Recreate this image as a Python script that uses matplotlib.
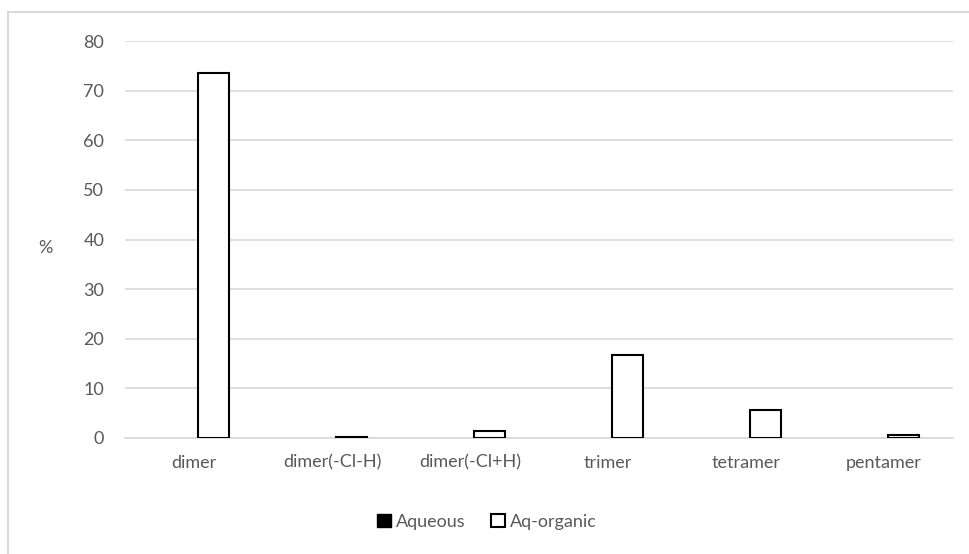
import matplotlib
matplotlib.use("Agg")
import matplotlib.pyplot as plt
import numpy as np
from matplotlib.lines import Line2D
from matplotlib.patches import Patch

categories = ["dimer", "dimer(-Cl-H)", "dimer(-Cl+H)", "trimer", "tetramer", "pentamer"]
aqueous = [0, 0, 0, 0, 0, 0]
aq_organic = [73.5, 0.3, 1.4, 16.7, 5.6, 0.7]
yticks = [0, 10, 20, 30, 40, 50, 60, 70, 80]

plt.rcParams['font.family'] = ['Lato', 'DejaVu Sans']
W, H = 970, 554
fig = plt.figure(figsize=(W/100, H/100), dpi=100)
ax = fig.add_axes([125/W, 1-438/H, (953-125)/W, (438-41)/H])

x = np.arange(len(categories))
bw = 0.225
ax.bar(x - 0.115, aqueous, width=bw, color='black', edgecolor='black', linewidth=0, zorder=3)
ax.bar(x + 0.14, aq_organic, width=bw, color='white', edgecolor='black', linewidth=1.5, zorder=3)

ax.set_xlim(-0.5, len(categories) - 0.5)
ax.set_ylim(0, 80)
ax.set_yticks(yticks)
ax.set_xticks(x)
ax.set_xticklabels(categories)
ax.grid(axis='y', color='#d9d9d9', linewidth=1.2, zorder=0)
for s in ['top', 'right', 'left']:
    ax.spines[s].set_visible(False)
ax.spines['bottom'].set_color('#d9d9d9')
ax.spines['bottom'].set_linewidth(1.2)
ax.tick_params(axis='both', length=0, colors='#595959', labelsize=13)
ax.tick_params(axis='y', pad=15)
ax.tick_params(axis='x', pad=12)
ax.set_ylabel('%', rotation=0, color='#595959', fontsize=13, va='center', ha='center')
ax.yaxis.set_label_coords(-0.0966, 0.478)

handles = [Patch(facecolor='black', edgecolor='black', linewidth=1.0),
           Patch(facecolor='white', edgecolor='black', linewidth=1.5)]
fig.legend(handles, ['Aqueous', 'Aq-organic'], loc='center', bbox_to_anchor=(487/W, 1-522/H),
           ncol=2, frameon=False, fontsize=13, labelcolor='#595959',
           handlelength=0.75, handleheight=0.75, handletextpad=0.3, columnspacing=1.4)

fig.add_artist(Line2D([8/W, 8/W], [0, 1-12/H], color='#d9d9d9', linewidth=1.5))
fig.add_artist(Line2D([8/W, 1], [1-12/H, 1-12/H], color='#d9d9d9', linewidth=1.5))

fig.savefig('out.png', dpi=100, facecolor='white')
